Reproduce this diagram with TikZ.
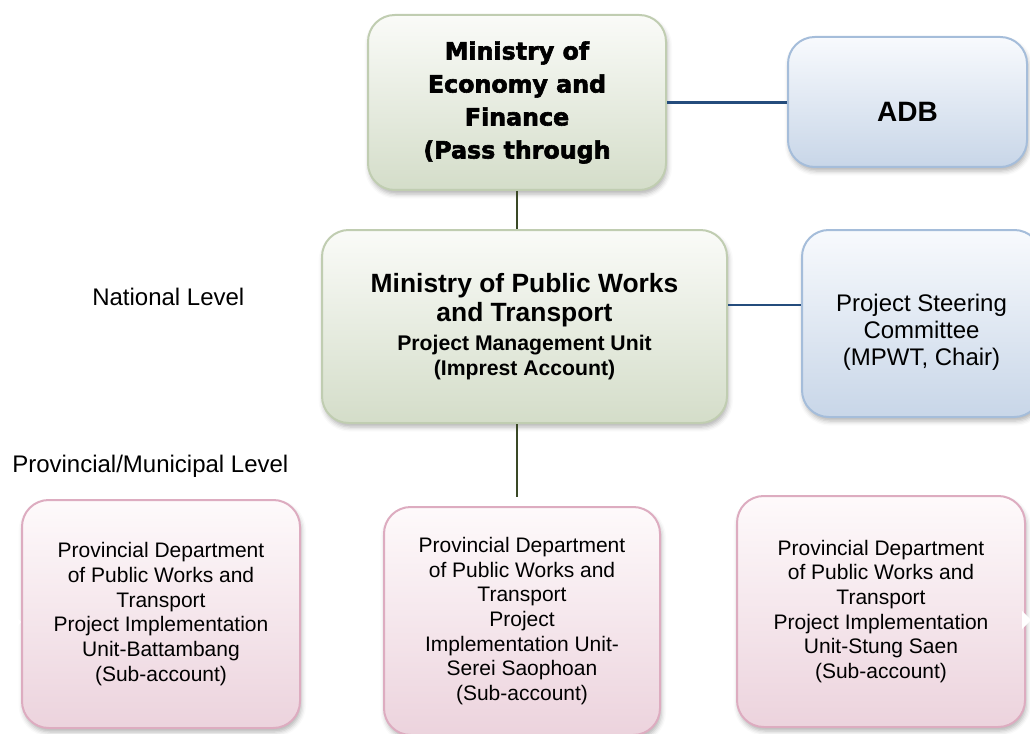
\documentclass[tikz,border=0pt]{standalone}
\usepackage{fontspec}
\setmainfont{Liberation Sans}
\newfontfamily\heavyfont[FakeBold=2.5]{DejaVu Sans}
\usetikzlibrary{shadows.blur}
\definecolor{grnBorder}{RGB}{192,205,177}
\definecolor{grnTop}{RGB}{250,251,248}
\definecolor{grnBot}{RGB}{212,221,201}
\definecolor{bluBorder}{RGB}{165,189,218}
\definecolor{bluTop}{RGB}{248,250,253}
\definecolor{bluBot}{RGB}{200,214,232}
\definecolor{pnkBorder}{RGB}{221,172,192}
\definecolor{pnkTop}{RGB}{254,250,251}
\definecolor{pnkBot}{RGB}{236,211,221}
\definecolor{oliveLine}{RGB}{58,73,38}
\definecolor{navyLine}{RGB}{36,76,124}
\newcommand\fsz[2]{\fontsize{#1}{#2}\selectfont}
\tikzset{
  boxbase/.style={rounded corners=20pt, line width=1.5pt, inner sep=0pt,
    align=center, text=black,
    blur shadow={shadow xshift=1pt, shadow yshift=-3pt, shadow blur radius=3.5pt, shadow opacity=30}},
  greenbox/.style={boxbase, draw=grnBorder, top color=grnTop, bottom color=grnBot},
  bluebox/.style={boxbase, draw=bluBorder, top color=bluTop, bottom color=bluBot},
  pinkbox/.style={boxbase, draw=pnkBorder, top color=pnkTop, bottom color=pnkBot,
    font=\fsz{15.75pt}{18.5pt}},
  oliveconn/.style={draw=oliveLine, line width=1.6pt},
  navyconn/.style={draw=navyLine, line width=1.6pt},
  levellabel/.style={inner sep=0pt, anchor=base west, font=\fsz{18pt}{21pt}},
  tipmark/.style={fill=white, draw=none}
}
\begin{document}
\begin{tikzpicture}[x=0.75pt, y=-0.75pt]
\useasboundingbox (0,0) rectangle (1030,734);

% boxes
\node[greenbox, minimum width=223.5pt, minimum height=131.25pt,
      font=\heavyfont\bfseries\fsz{17.8pt}{24.75pt}] (mef) at (517,102.5)
  {Ministry of\\Economy and\\Finance\\(Pass through};
\node[bluebox, minimum width=179.25pt, minimum height=97.5pt] (adb) at (907.5,102) {};
\node[font=\bfseries\fsz{21pt}{24pt}, inner sep=0pt] (adbtext) at (907.5,112) {ADB};

\node[greenbox, minimum width=303.75pt, minimum height=144.75pt,
      font=\bfseries\fsz{19.8pt}{21.75pt}] (mpwt) at (524.5,326.5)
  {Ministry of Public Works\\and Transport\\
   \fsz{15.9pt}{18.75pt}Project Management Unit\\[-3pt]
   \fsz{15.9pt}{18.75pt}(Imprest Account)};
\node[bluebox, minimum width=179.25pt, minimum height=140.25pt] (psc) at (921.5,323.5) {};
\node[font=\fsz{18pt}{20.25pt}, align=center, inner sep=0pt] (psctext) at (921.5,332)
  {Project Steering\\Committee\\(MPWT, Chair)};

\node[pinkbox, minimum width=208.5pt, minimum height=171pt] (pb) at (161,614)
  {Provincial Department\\of Public Works and\\Transport\\Project Implementation\\Unit-Battambang\\(Sub-account)};
\node[pinkbox, minimum width=207pt, minimum height=171pt] (ps) at (522,621)
  {Provincial Department\\of Public Works and\\Transport\\Project\\Implementation Unit-\\Serei Saophoan\\(Sub-account)};
\node[pinkbox, minimum width=216pt, minimum height=173.25pt] (pst) at (881,611.5)
  {Provincial Department\\of Public Works and\\Transport\\Project Implementation\\Unit-Stung Saen\\(Sub-account)};

% small white arrow tips on the outer box edges
\fill[tipmark] (13,612) -- (21,622) -- (13,632) -- cycle;
\fill[tipmark] (1022,611) -- (1031,620) -- (1022,629) -- cycle;

% level labels
\node[levellabel] (natl) at (92,305) {National Level};
\node[levellabel] (prov) at (12,472) {Provincial/Municipal Level};

% connectors
\draw[navyconn] (mef.east) -- (mef.east -| adb.west);
\draw[oliveconn] (mef.south) -- (mef.south |- mpwt.north);
\draw[navyconn] ([yshift=16.1pt]mpwt.east) -- ([yshift=16.1pt]mpwt.east -| psc.west);
\coordinate (pend) at (517,497);
\draw[oliveconn] (mpwt.south -| pend) -- (pend);
\end{tikzpicture}
\end{document}
